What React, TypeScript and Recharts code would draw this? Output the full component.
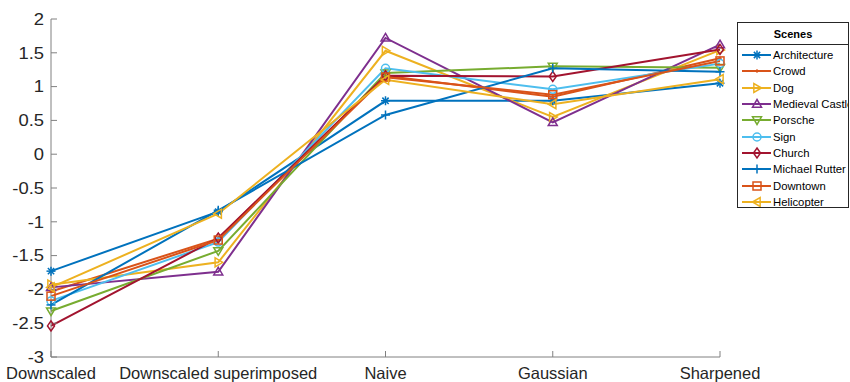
import { LineChart, Line, XAxis, YAxis } from "recharts";

const categories = ["Downscaled", "Downscaled superimposed", "Naive", "Gaussian", "Sharpened"];
const yTicks = [-3, -2.5, -2, -1.5, -1, -0.5, 0, 0.5, 1, 1.5, 2];

const sceneNames = [
  "Architecture",
  "Crowd",
  "Dog",
  "Medieval Castle",
  "Porsche",
  "Sign",
  "Church",
  "Michael Rutter",
  "Downtown",
  "Helicopter",
];
const sceneColors = [
  "#0072BD",
  "#D95319",
  "#EDB120",
  "#7E2F8E",
  "#77AC30",
  "#4DBEEE",
  "#A2142F",
  "#0072BD",
  "#D95319",
  "#EDB120",
];
const sceneMarkers = [
  "asterisk",
  "point",
  "triangleRight",
  "triangleUp",
  "triangleDown",
  "circle",
  "diamond",
  "plus",
  "square",
  "triangleLeft",
];

const architecture = [-1.73, -0.85, 0.79, 0.79, 1.05];
const crowd = [-2.03, -1.25, 1.16, 0.85, 1.42];
const dog = [-1.93, -1.6, 1.53, 0.55, 1.54];
const medievalCastle = [-1.97, -1.74, 1.72, 0.47, 1.62];
const porsche = [-2.32, -1.43, 1.2, 1.3, 1.28];
const sign = [-2.17, -1.3, 1.27, 0.96, 1.34];
const church = [-2.54, -1.24, 1.16, 1.15, 1.55];
const michaelRutter = [-2.23, -0.83, 0.58, 1.27, 1.22];
const downtown = [-2.1, -1.27, 1.14, 0.88, 1.38];
const helicopter = [-1.97, -0.88, 1.1, 0.74, 1.11];

const seriesValues = [
  architecture,
  crowd,
  dog,
  medievalCastle,
  porsche,
  sign,
  church,
  michaelRutter,
  downtown,
  helicopter,
];

const data = categories.map((c, i) => {
  const row: Record<string, string | number> = { category: c };
  sceneNames.forEach((n, s) => {
    row[n] = seriesValues[s][i];
  });
  return row;
});

const FONT = "'Liberation Sans', Arial, Helvetica, sans-serif";
const TEXT = "#262626";
const AXIS = "#808080";

function MarkerShape({ cx, cy, kind, color }: { cx: number; cy: number; kind: string; color: string }) {
  const r = 4.5;
  const p = { stroke: color, strokeWidth: 1.5, fill: "none" };
  switch (kind) {
    case "asterisk":
      return (
        <g {...p}>
          <line x1={cx - r} y1={cy} x2={cx + r} y2={cy} />
          <line x1={cx} y1={cy - r} x2={cx} y2={cy + r} />
          <line x1={cx - r * 0.7} y1={cy - r * 0.7} x2={cx + r * 0.7} y2={cy + r * 0.7} />
          <line x1={cx - r * 0.7} y1={cy + r * 0.7} x2={cx + r * 0.7} y2={cy - r * 0.7} />
        </g>
      );
    case "point":
      return <circle cx={cx} cy={cy} r={1.2} fill={color} stroke={color} />;
    case "plus":
      return (
        <g {...p}>
          <line x1={cx - r} y1={cy} x2={cx + r} y2={cy} />
          <line x1={cx} y1={cy - r} x2={cx} y2={cy + r} />
        </g>
      );
    case "circle":
      return <circle cx={cx} cy={cy} r={r - 0.5} {...p} />;
    case "square":
      return <rect x={cx - r + 0.5} y={cy - r + 0.5} width={2 * r - 1} height={2 * r - 1} {...p} />;
    case "diamond":
      return <polygon points={`${cx},${cy - r - 0.5} ${cx + r - 1},${cy} ${cx},${cy + r + 0.5} ${cx - r + 1},${cy}`} {...p} />;
    case "triangleUp":
      return <polygon points={`${cx},${cy - r} ${cx + r},${cy + r * 0.7} ${cx - r},${cy + r * 0.7}`} {...p} />;
    case "triangleDown":
      return <polygon points={`${cx},${cy + r} ${cx + r},${cy - r * 0.7} ${cx - r},${cy - r * 0.7}`} {...p} />;
    case "triangleRight":
      return <polygon points={`${cx + r},${cy} ${cx - r * 0.7},${cy - r} ${cx - r * 0.7},${cy + r}`} {...p} />;
    case "triangleLeft":
      return <polygon points={`${cx - r},${cy} ${cx + r * 0.7},${cy - r} ${cx + r * 0.7},${cy + r}`} {...p} />;
    default:
      return null;
  }
}

function XTick(props: any) {
  const { x, y, payload } = props;
  return (
    <text x={x} y={y + 26} textAnchor="middle" fontSize={16.5} fontFamily={FONT} fill={TEXT}>
      {payload.value}
    </text>
  );
}

function YTick(props: any) {
  const { y, payload } = props;
  return (
    <g transform={`translate(44, ${y}) scale(1.15, 1)`}>
      <text x={0} y={0} dy="0.36em" textAnchor="end" fontSize={16} fontFamily={FONT} fill={TEXT}>
        {payload.value}
      </text>
    </g>
  );
}

const NoTick = () => <g />;

function SceneLegend() {
  return (
    <div
      style={{
        position: "absolute",
        left: 737,
        top: 22,
        width: 110,
        height: 184,
        border: `1px solid ${TEXT}`,
        background: "#fff",
        overflow: "hidden",
        fontFamily: FONT,
        color: "#000",
      }}
    >
      <div
        style={{
          textAlign: "center",
          fontWeight: "bold",
          fontSize: 11,
          height: 21,
          lineHeight: "22px",
          borderBottom: `1px solid ${TEXT}`,
        }}
      >
        Scenes
      </div>
      <div style={{ paddingTop: 2 }}>
        {sceneNames.map((n, i) => (
          <div key={n} style={{ display: "flex", alignItems: "center", height: 16.3, whiteSpace: "nowrap" }}>
            <svg width={34} height={14} style={{ flex: "none" }}>
              <line x1={4} y1={7} x2={33} y2={7} stroke={sceneColors[i]} strokeWidth={2} />
              <MarkerShape cx={19} cy={7} kind={sceneMarkers[i]} color={sceneColors[i]} />
            </svg>
            <span style={{ fontSize: 11.3, marginLeft: 1 }}>{n}</span>
          </div>
        ))}
      </div>
    </div>
  );
}

export default function App() {
  return (
    <div style={{ position: "absolute", left: 0, top: 0, width: 850, height: 382, background: "#fff" }}>
      <LineChart width={850} height={382} data={data} margin={{ top: 19, right: 130, bottom: 0, left: 0 }}>
        <XAxis
          dataKey="category"
          height={25}
          stroke={AXIS}
          tickSize={-6}
          tick={<XTick />}
          interval={0}
          padding={{ left: 0, right: 0 }}
        />
        <XAxis
          xAxisId="top"
          dataKey="category"
          orientation="top"
          height={0}
          stroke={AXIS}
          tickSize={-6}
          tick={<NoTick />}
          interval={0}
        />
        <YAxis
          type="number"
          domain={[-3, 2]}
          ticks={yTicks}
          width={51}
          stroke={AXIS}
          tickSize={-6}
          tick={<YTick />}
          interval={0}
          allowDataOverflow
        />
        <YAxis
          yAxisId="right"
          orientation="right"
          type="number"
          domain={[-3, 2]}
          ticks={yTicks}
          width={0}
          stroke={AXIS}
          tickSize={-6}
          tick={<NoTick />}
          interval={0}
        />
        {sceneNames.map((n, i) => (
          <Line
            key={n}
            dataKey={n}
            type="linear"
            stroke={sceneColors[i]}
            strokeWidth={2}
            isAnimationActive={false}
            dot={(dp: any) => (
              <MarkerShape key={`${n}-${dp.index}`} cx={dp.cx} cy={dp.cy} kind={sceneMarkers[i]} color={sceneColors[i]} />
            )}
            activeDot={false}
          />
        ))}
      </LineChart>
      <SceneLegend />
    </div>
  );
}
